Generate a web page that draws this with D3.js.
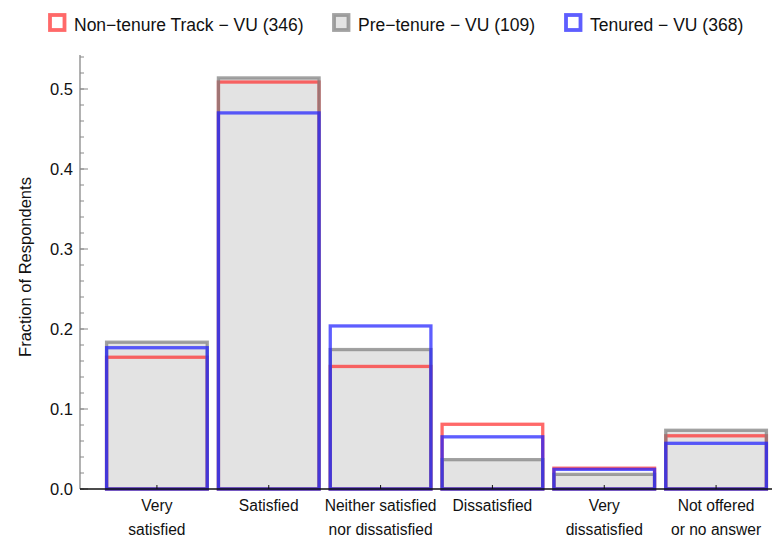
<!DOCTYPE html>
<html><head><meta charset="utf-8">
<script src="https://cdn.jsdelivr.net/npm/d3@7"></script>
<style>body{margin:0;background:#fff}svg{display:block;font-family:"Liberation Sans",Arial,sans-serif}</style>
</head><body><div id="chart"></div>
<script>
const categories = ["Very satisfied","Satisfied","Neither satisfied nor dissatisfied","Dissatisfied","Very dissatisfied","Not offered or no answer"];
const categoryLines = [["Very","satisfied"],["Satisfied"],["Neither satisfied","nor dissatisfied"],["Dissatisfied"],["Very","dissatisfied"],["Not offered","or no answer"]];
const seriesNames = ["Non\u2212tenure Track \u2212 VU (346)","Pre\u2212tenure \u2212 VU (109)","Tenured \u2212 VU (368)"];
const nonTenure = [0.1647, 0.5087, 0.1532, 0.0809, 0.0260, 0.0665];
const preTenure = [0.1835, 0.5138, 0.1743, 0.0367, 0.0183, 0.0734];
const tenured   = [0.1766, 0.4701, 0.2038, 0.0652, 0.0245, 0.0571];
const yTicks = [0, 0.1, 0.2, 0.3, 0.4, 0.5];

const W = 772, H = 543;
const svg = d3.select("#chart").append("svg").attr("width", W).attr("height", H);

const x = d3.scaleBand().domain(categories).range([101, 772]).paddingInner(0.1).paddingOuter(0.05);
const y = d3.scaleLinear().domain([0, 0.54]).range([489, 57]);

const series = [
  {name: seriesNames[0], values: nonTenure, stroke: "#ff2a2a", so: 0.7, fill: "none"},
  {name: seriesNames[1], values: preTenure, stroke: "#7a7a7a", so: 0.7, fill: "#e3e3e3"},
  {name: seriesNames[2], values: tenured, stroke: "#2020ff", so: 0.72, fill: "none"}
];

const g = svg.append("g");
series.forEach(s => {
  if (s.fill !== "none") {
    g.selectAll(null).data(s.values).enter().append("rect")
      .attr("x", (d,i) => x(categories[i]))
      .attr("y", d => y(d))
      .attr("width", x.bandwidth())
      .attr("height", d => y(0) - y(d))
      .attr("fill", s.fill);
  }
});
series.forEach(s => {
  g.selectAll(null).data(s.values).enter().append("rect")
    .attr("x", (d,i) => x(categories[i]))
    .attr("y", d => y(d))
    .attr("width", x.bandwidth())
    .attr("height", d => y(0) - y(d))
    .attr("fill", "none")
    .attr("stroke", s.stroke)
    .attr("stroke-opacity", s.so)
    .attr("stroke-width", 3.3);
});

// y axis
const yAxisG = svg.append("g");
yAxisG.append("line").attr("x1", 80).attr("x2", 80).attr("y1", y(0)).attr("y2", 55)
  .attr("stroke", "#888").attr("stroke-width", 1.3);
const minor = d3.range(0, 0.541, 0.02);
yAxisG.selectAll(".mn").data(minor).enter().append("line")
  .attr("x1", 80).attr("x2", 84).attr("y1", d => y(d)).attr("y2", d => y(d))
  .attr("stroke", "#888").attr("stroke-width", 1);
yAxisG.selectAll(".mj").data(yTicks).enter().append("line")
  .attr("x1", 80).attr("x2", 88).attr("y1", d => y(d)).attr("y2", d => y(d))
  .attr("stroke", "#888").attr("stroke-width", 1);
yAxisG.selectAll(".lb").data(yTicks).enter().append("text")
  .attr("x", 73).attr("y", d => y(d)).attr("dy", "0.36em")
  .attr("text-anchor", "end").attr("font-size", 16.5).attr("fill", "#111")
  .text(d => d3.format(".1f")(d));

svg.append("text").attr("transform", "translate(31,267) rotate(-90)")
  .attr("text-anchor", "middle").attr("font-size", 16.5).attr("fill", "#111")
  .text("Fraction of Respondents");

// x axis
svg.append("line").attr("x1", 80).attr("x2", 772).attr("y1", y(0)).attr("y2", y(0))
  .attr("stroke", "#111").attr("stroke-width", 1.3);
const xt = svg.append("g");
categories.forEach((c, i) => {
  const cx = x(c) + x.bandwidth() / 2;
  xt.append("line").attr("x1", cx).attr("x2", cx).attr("y1", y(0)).attr("y2", y(0) - 4)
    .attr("stroke", "#111").attr("stroke-width", 1);
  const t = xt.append("text").attr("x", cx).attr("y", 511).attr("text-anchor", "middle")
    .attr("font-size", 15.6).attr("fill", "#111");
  categoryLines[i].forEach((ln, k) => {
    t.append("tspan").attr("x", cx).attr("dy", k === 0 ? 0 : 24).text(ln);
  });
});

// legend
const legendX = [48, 332, 564];
series.forEach((s, i) => {
  const lg = svg.append("g").attr("transform", `translate(${legendX[i]},13)`);
  lg.append("rect").attr("x", 2).attr("y", 2).attr("width", 14.5).attr("height", 15)
    .attr("fill", s.fill === "none" ? "#fff" : s.fill)
    .attr("stroke", s.stroke).attr("stroke-opacity", s.so).attr("stroke-width", 3.8);
  lg.append("text").attr("x", 26).attr("y", 18).attr("font-size", 17.5).attr("fill", "#111").text(s.name);
});
</script></body></html>
